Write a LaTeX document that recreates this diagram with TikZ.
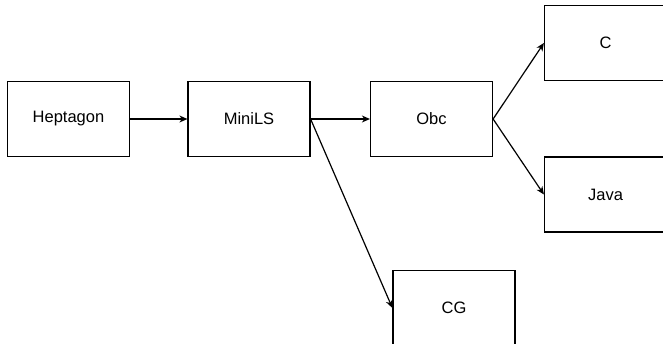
\documentclass[tikz,border=0pt]{standalone}
\usepackage{fontspec}
\setmainfont{Liberation Sans}
\usetikzlibrary{arrows.meta}
\begin{document}
\begin{tikzpicture}[x=1pt,y=-1pt,
  stage/.style={draw, line width=1.2pt, minimum width=122pt, minimum height=75pt,
    inner sep=0pt, font=\fontsize{16.5}{19}\selectfont},
  flow/.style={line width=1.2pt, -{Stealth[length=8pt,width=7pt,inset=2.5pt]}}]
  \useasboundingbox (0,0) rectangle (663,343);
  \clip (0,0) rectangle (663,343);
  \node[stage] (hep)  at (68.5,119) {Heptagon};
  \node[stage] (mini) at (249,119)  {MiniLS};
  \node[stage] (obc)  at (431.5,119) {Obc};
  \node[stage] (c)    at (605.5,43)  {C};
  \node[stage] (java) at (605.5,194.5) {Java};
  \node[stage] (cg)   at (454,308)  {CG};
  \draw[flow] (hep.east) -- (mini.west);
  \draw[flow] (mini.east) -- (obc.west);
  \draw[flow] (mini.east) -- (cg.west);
  \draw[flow] (obc.east) -- (c.west);
  \draw[flow] (obc.east) -- (java.west);
\end{tikzpicture}
\end{document}
